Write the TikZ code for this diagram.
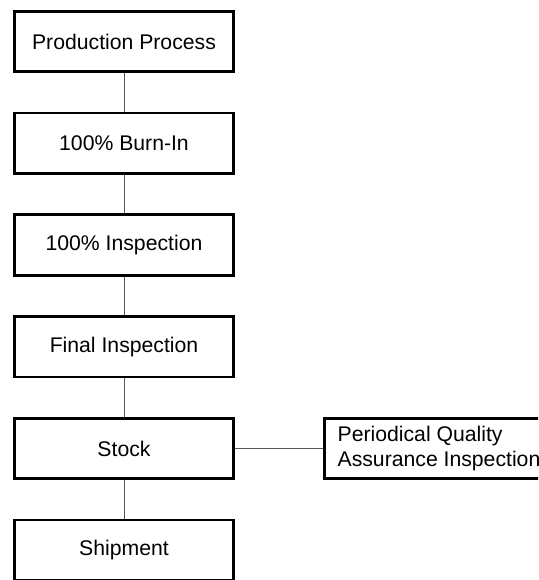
\documentclass[tikz,border=0pt]{standalone}
\usepackage{fontspec}
\setmainfont{Liberation Sans}
\begin{document}
\begin{tikzpicture}[x=1pt,y=-1pt,
  stepbox/.style={draw=black,line width=2.7pt,minimum width=219.5pt,minimum height=60.5pt,inner sep=0pt,font=\fontsize{21.2}{25}\selectfont},
  sidebox/.style={draw=black,line width=2.7pt,minimum height=60.5pt,inner xsep=13pt,inner ysep=0pt,align=left,font=\fontsize{21.2}{25.5}\selectfont},
  conn/.style={draw=black!65,line width=1pt}]
\useasboundingbox (0,0) rectangle (538,580);
\clip (0,0) rectangle (538,580);
\node[stepbox] (pp) at (124,41.5) {Production Process};
\node[stepbox] (bi) at (124,143.25) {100\% Burn-In};
\node[stepbox] (ins) at (124,245) {100\% Inspection};
\node[stepbox] (fi) at (124,346.75) {Final Inspection};
\node[stepbox] (st) at (124,448.5) {Stock};
\node[stepbox] (sh) at (124,550.25) {Shipment};
\node[sidebox,anchor=west] (pq) at (323.3,448.5) {Periodical Quality\\Assurance Inspection};
\draw[conn] (pp) -- (bi);
\draw[conn] (bi) -- (ins);
\draw[conn] (ins) -- (fi);
\draw[conn] (fi) -- (st);
\draw[conn] (st) -- (sh);
\draw[conn] (st) -- (pq);
\end{tikzpicture}
\end{document}
